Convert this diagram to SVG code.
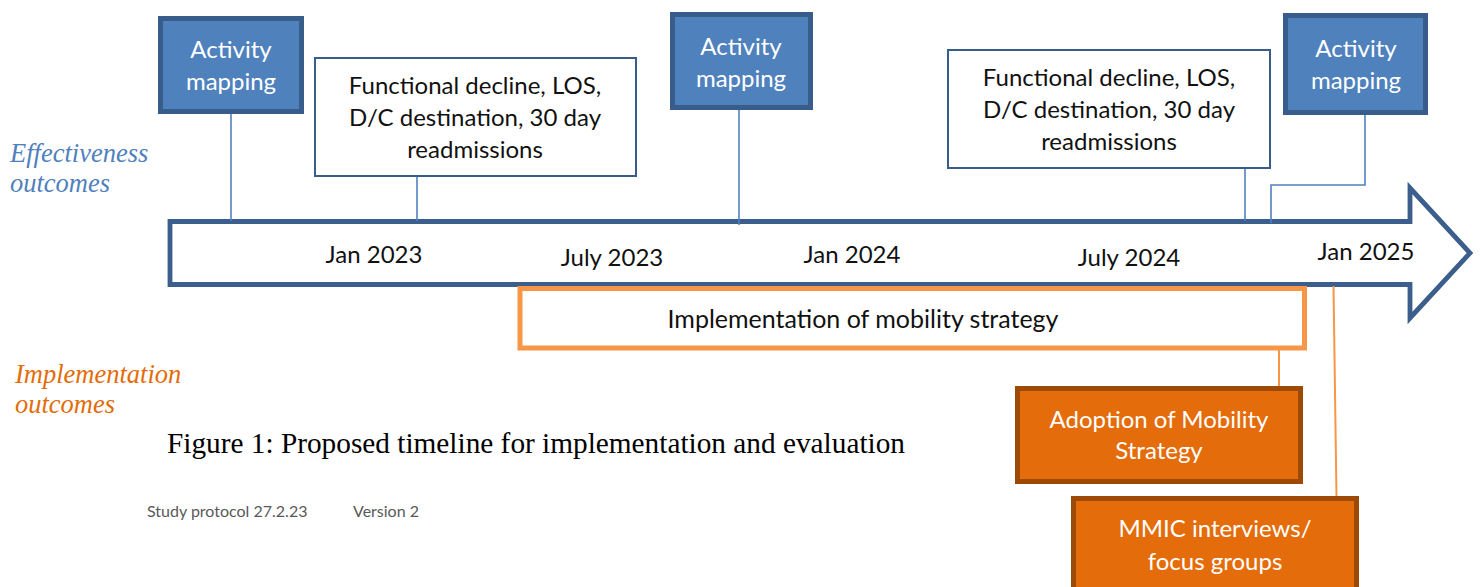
<svg xmlns="http://www.w3.org/2000/svg" width="1481" height="587" viewBox="0 0 1481 587">
  <style>
    .cal { font-family: Lato, "Open Sans", "Liberation Sans", sans-serif; font-size: 24px; text-anchor: middle; }
    .white { fill: #ffffff; }
    .dark { fill: #111111; }
    .am { fill: #4f81bd; stroke: #385d8a; stroke-width: 5; }
    .fd { fill: #ffffff; stroke: #385d8a; stroke-width: 2; }
    .out { fill: #e46c0a; stroke: #9c4a06; stroke-width: 5; }
    .blue-line { stroke: #4f81bd; stroke-width: 1.6; fill: none; }
    .orange-line { stroke: #f79646; stroke-width: 2; fill: none; }
    .side { font-family: "Liberation Serif", "DejaVu Serif", serif; font-style: italic; font-size: 26.5px; }
  </style>

  <rect width="1481" height="587" fill="#ffffff"/>

  <!-- timeline arrow -->
  <g id="timeline">
    <path d="M170,221.5 H1410 V188 L1470,253 L1410,318 V284.5 H170 Z" fill="#ffffff" stroke="#3b5e8c" stroke-width="4.8" stroke-linejoin="miter"/>
    <text class="cal dark" x="374" y="263">Jan 2023</text>
    <text class="cal dark" x="612" y="266">July 2023</text>
    <text class="cal dark" x="852" y="263">Jan 2024</text>
    <text class="cal dark" x="1129" y="266">July 2024</text>
    <text class="cal dark" x="1366" y="260">Jan 2025</text>
  </g>

  <!-- connectors -->
  <g id="connectors">
    <line class="blue-line" x1="231" y1="113" x2="231" y2="221"/>
    <line class="blue-line" x1="417" y1="176" x2="417" y2="221"/>
    <line class="blue-line" x1="739" y1="110" x2="739" y2="225"/>
    <line class="blue-line" x1="1245" y1="168" x2="1245" y2="221"/>
    <polyline class="blue-line" points="1365,115 1365,185 1271,185 1271,223"/>
    <line class="orange-line" x1="1279" y1="349" x2="1279" y2="387"/>
    <line class="orange-line" x1="1333.5" y1="286" x2="1336.5" y2="497"/>
  </g>

  <!-- effectiveness outcome nodes -->
  <g id="activity-mapping-1">
    <rect class="am" x="160.5" y="18.5" width="141" height="93"/>
    <text class="cal white" x="231" y="58">Activity</text>
    <text class="cal white" x="231" y="90">mapping</text>
  </g>

  <g id="outcomes-1">
    <rect class="fd" x="315" y="58" width="321" height="118"/>
    <text class="cal dark" x="475" y="94">Functional decline, LOS,</text>
    <text class="cal dark" x="475" y="126">D/C destination, 30 day</text>
    <text class="cal dark" x="475" y="158">readmissions</text>
  </g>

  <g id="activity-mapping-2">
    <rect class="am" x="672.5" y="14.5" width="138" height="93"/>
    <text class="cal white" x="741" y="55">Activity</text>
    <text class="cal white" x="741" y="87">mapping</text>
  </g>

  <g id="outcomes-2">
    <rect class="fd" x="948" y="50" width="322" height="118"/>
    <text class="cal dark" x="1109" y="86">Functional decline, LOS,</text>
    <text class="cal dark" x="1109" y="118">D/C destination, 30 day</text>
    <text class="cal dark" x="1109" y="150">readmissions</text>
  </g>

  <g id="activity-mapping-3">
    <rect class="am" x="1285.5" y="15.5" width="140" height="97"/>
    <text class="cal white" x="1356" y="57">Activity</text>
    <text class="cal white" x="1356" y="89">mapping</text>
  </g>

  <!-- implementation band -->
  <g id="implementation">
    <rect x="520" y="288.5" width="784.5" height="59.5" fill="#ffffff" stroke="#f79646" stroke-width="5"/>
    <text class="cal dark" x="863" y="328" style="font-size:25px">Implementation of mobility strategy</text>
  </g>

  <g id="adoption">
    <rect class="out" x="1017.5" y="388.5" width="283" height="93"/>
    <text class="cal white" x="1159" y="428">Adoption of Mobility</text>
    <text class="cal white" x="1159" y="459">Strategy</text>
  </g>

  <g id="mmic">
    <rect class="out" x="1073.5" y="498.5" width="283" height="100"/>
    <text class="cal white" x="1215" y="537">MMIC interviews/</text>
    <text class="cal white" x="1215" y="570">focus groups</text>
  </g>

  <!-- side labels -->
  <g id="labels">
    <text class="side" x="10" y="162" fill="#4f81bd">Effectiveness</text>
    <text class="side" x="10" y="192" fill="#4f81bd">outcomes</text>
    <text class="side" x="15" y="383" fill="#e36c0a">Implementation</text>
    <text class="side" x="15" y="413" fill="#e36c0a">outcomes</text>
  </g>

  <g id="caption">
    <text x="167" y="453" font-family="'Liberation Serif', 'DejaVu Serif', serif" font-size="29.3" fill="#000000">Figure 1: Proposed timeline for implementation and evaluation</text>
    <text x="147" y="517" font-family="Lato, 'Open Sans', 'Liberation Sans', sans-serif" font-size="16" fill="#595959">Study protocol 27.2.23</text>
    <text x="353" y="517" font-family="Lato, 'Open Sans', 'Liberation Sans', sans-serif" font-size="16" fill="#595959">Version 2</text>
  </g>
</svg>
